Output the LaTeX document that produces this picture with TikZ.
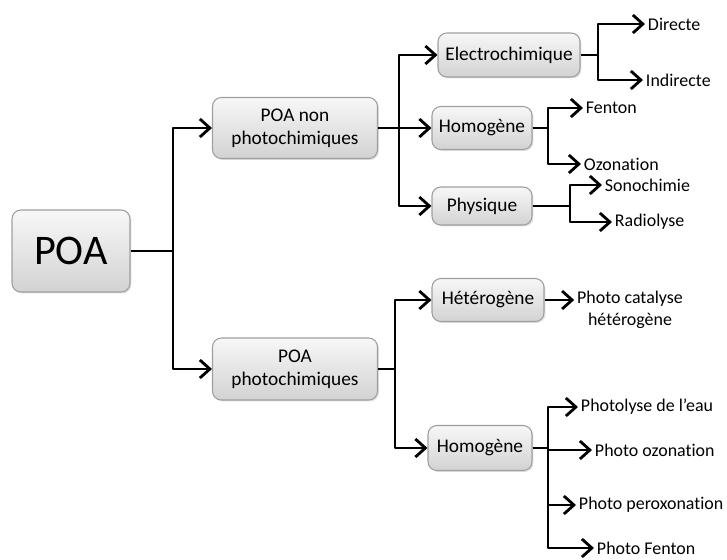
\documentclass[tikz,border=0pt]{standalone}
\usepackage{fontspec}
\setmainfont{Carlito}[Ligatures=NoCommon]
\usetikzlibrary{arrows.meta,shadows}
\begin{document}
\begin{tikzpicture}[x=0.02cm, y=-0.02cm, line join=round, >={Straight Barb[length=2mm,width=3.6mm]},
	box/.style={draw=gray!75, rounded corners=5pt, top color=gray!6, bottom color=gray!35, line width=0.6pt,
		drop shadow={opacity=0.25, shadow xshift=0.8pt, shadow yshift=-0.8pt}, align=center, inner sep=1pt,
		font=\fontsize{11}{13}\selectfont},
	lbl/.style={anchor=west, inner sep=1.5pt, font=\fontsize{10.2}{12.2}\selectfont},
	link/.style={line width=1.6pt}]
	\useasboundingbox (0,0) rectangle (727,559);
	% boites
	\node[box, minimum width=2.36cm, minimum height=1.64cm, font=\fontsize{24}{28}\selectfont] (poa) at (71,251) {POA};
	\node[box, minimum width=3.3cm, minimum height=1.22cm] (nonph) at (295,128) {POA non\\photochimiques};
	\node[box, minimum width=3.3cm, minimum height=1.24cm] (ph) at (295,369) {POA\\photochimiques};
	\node[box, minimum width=2.84cm, minimum height=0.88cm] (elec) at (509,55) {Electrochimique};
	\node[box, minimum width=2.0cm, minimum height=0.86cm] (homoA) at (482,128) {Homogène};
	\node[box, minimum width=2.0cm, minimum height=0.76cm] (phys) at (482,206) {Physique};
	\node[box, minimum width=2.24cm, minimum height=0.86cm] (hete) at (488,300) {Hétérogène};
	\node[box, minimum width=2.08cm, minimum height=0.9cm] (homoB) at (480,448) {Homogène};
	% textes
	\foreach \n/\t/\p in {dir/Directe/{(645,24)}, ind/Indirecte/{(643,80)}, fen/Fenton/{(583,108)},
		ozo/Ozonation/{(581,164)}, son/Sonochimie/{(602,185)}, rad/Radiolyse/{(612,222)},
		plyse/Photolyse de l’eau/{(578,407)}, pozo/Photo ozonation/{(592,450)},
		pper/Photo peroxonation/{(576,505)}, pfen/Photo Fenton/{(594,548)}}
	\node[lbl] (\n) at \p {\t};
	\node[lbl, anchor=center, align=center] (cata) at (630,310) {Photo catalyse\\hétérogène};
	% jonctions
	\path
	(173,251) coordinate (j0)
	(399,128) coordinate (j1)
	(598,55) coordinate (j2)
	(548,128) coordinate (j3)
	(570,206) coordinate (j4)
	(395,369) coordinate (j5)
	(548,448) coordinate (j6)
	;
	\draw[link] (poa.east) -- (j0);
	\draw[link] (nonph.east) -- (j1);
	\draw[link] (elec.east) -- (j2);
	\draw[link] (homoA.east) -- (j3);
	\draw[link] (phys.east) -- (j4);
	\draw[link] (ph.east) -- (j5);
	\draw[link] (homoB.east) -- (j6);
	\foreach \j/\a/\b in {j0/nonph/ph, j1/elec/phys, j2/dir/ind, j3/fen/ozo, j4/son/rad, j5/hete/homoB}
	\draw[link, <->] (\a.west) -| (\j) |- (\b.west);
	\draw[link, ->] (j1) -- (homoA.west);
	\draw[link, ->] (hete.east) -- (hete.east -| cata.west);
	\draw[link, <->] (plyse.west) -| (j6) |- (pfen.west);
	\foreach \n in {pozo, pper}
	\draw[link, ->] (j6 |- \n.west) -- (\n.west);
\end{tikzpicture}
\end{document}
